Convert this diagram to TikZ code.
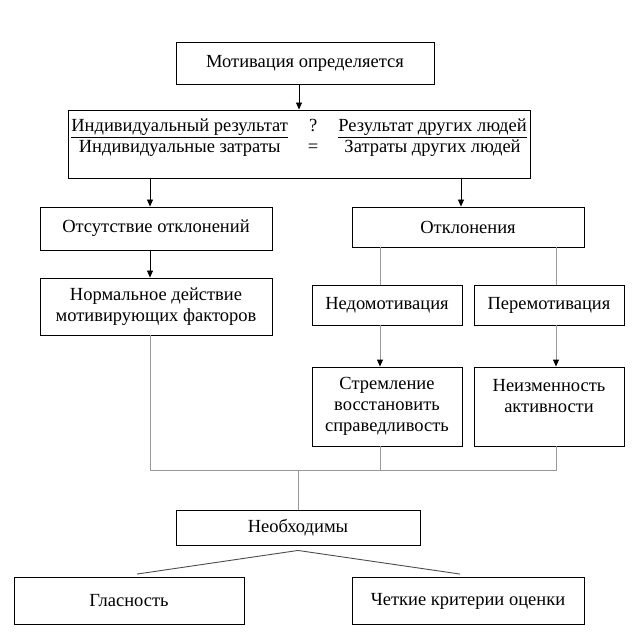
\documentclass[tikz,border=0pt]{standalone}
\usepackage{fontspec}
\setmainfont{Liberation Serif}
\usetikzlibrary{positioning,calc,arrows.meta}

\begin{document}
\begin{tikzpicture}[x=1pt,y=-1pt,
    box/.style={draw=black,line width=0.9pt,align=center,inner sep=2pt,
        font=\fontsize{18.5}{21}\selectfont},
    arr/.style={draw=black,line width=0.8pt,-{Triangle[length=7pt,width=6pt]}},
    garr/.style={draw=gray!80,line width=0.9pt,-{Triangle[length=7pt,width=6pt,black]}},
    link/.style={draw=gray!80,line width=0.9pt},
    txt/.style={font=\fontsize{18.5}{21}\selectfont,inner sep=0pt}]
    \useasboundingbox (0,0) rectangle (640,632);

    % Top
    \node[box, minimum width=258, minimum height=42] (motiv) at (305,63) {Мотивация определяется};
    \node[box, minimum width=462, minimum height=68] (crit) at (299,144) {};
    \node[txt, anchor=north] (critTxt) at ($(crit.north)+(0,7)$) {%
        \begin{tabular}{@{}c@{\hspace{20pt}}c@{\hspace{20pt}}c@{}}
        \underline{Индивидуальный результат} & ? & \underline{Результат других людей}\\
        Индивидуальные затраты & = & Затраты других людей
        \end{tabular}};

    % Two branches
    \node[box, minimum width=232, minimum height=43] (otsut) at (156,228.5) {Отсутствие отклонений};
    \node[box, minimum width=232, minimum height=40] (otkl) at (468,227) {Отклонения};
    \node[box, minimum width=232, minimum height=57] (norm) at (156,306.5) {Нормальное действие\\мотивирующих факторов};
    \node[box, minimum width=150, minimum height=40] (nedo) at (387,305) {Недомотивация};
    \node[box, minimum width=150, minimum height=40] (pere) at (549,305) {Перемотивация};
    \node[box, minimum width=150, minimum height=79] (strem) at (387,406.5) {Стремление\\восстановить\\справедливость};
    \node[box, minimum width=150, minimum height=79] (neizm) at (549,406.5) {Неизменность\\активности\\~};

    % Bottom
    \node[box, minimum width=244, minimum height=35] (neobh) at (298,527.5) {Необходимы};
    \node[box, minimum width=230, minimum height=47] (glas) at (129,601) {Гласность};
    \node[box, minimum width=232, minimum height=47] (krit) at (468,601) {Четкие критерии оценки};

    % Arrows
    \draw[arr] (crit.north |- motiv.south) -- (crit.north);
    \coordinate (otsutT) at ([xshift=-6pt]otsut.north);
    \coordinate (otklT) at ([xshift=-7pt]otkl.north);
    \draw[arr] (otsutT |- crit.south) -- (otsutT);
    \draw[arr] (otklT |- crit.south) -- (otklT);
    \draw[arr] ([xshift=-6pt]otsut.south) -- ([xshift=-6pt]norm.north);

    \coordinate (nedoT) at ([xshift=-7pt]nedo.north);
    \coordinate (pereT) at ([xshift=7pt]pere.north);
    \draw[link] (nedoT |- otkl.south) -- (nedoT);
    \draw[link] (pereT |- otkl.south) -- (pereT);
    \draw[garr] ([xshift=-7pt]nedo.south) -- ([xshift=-7pt]strem.north);
    \draw[garr] ([xshift=7pt]pere.south) -- ([xshift=7pt]neizm.north);

    % Bus to "Необходимы"
    \coordinate (normB) at ([xshift=-6pt]norm.south);
    \coordinate (stremB) at ([xshift=-7pt]strem.south);
    \coordinate (neizmB) at ([xshift=7pt]neizm.south);
    \coordinate (bus) at ($(stremB)+(0,24)$);
    \draw[link] (normB) |- (neizmB |- bus) -- (neizmB);
    \draw[link] (stremB) -- (stremB |- bus);
    \draw[link] (neobh.north |- bus) -- (neobh.north);

    \coordinate (apex) at ([yshift=-5pt]neobh.south);
    \draw[link,draw=gray!60!black] ([xshift=8pt,yshift=3pt]glas.north) -- (apex) -- ([xshift=-8pt,yshift=3pt]krit.north);
\end{tikzpicture}
\end{document}
